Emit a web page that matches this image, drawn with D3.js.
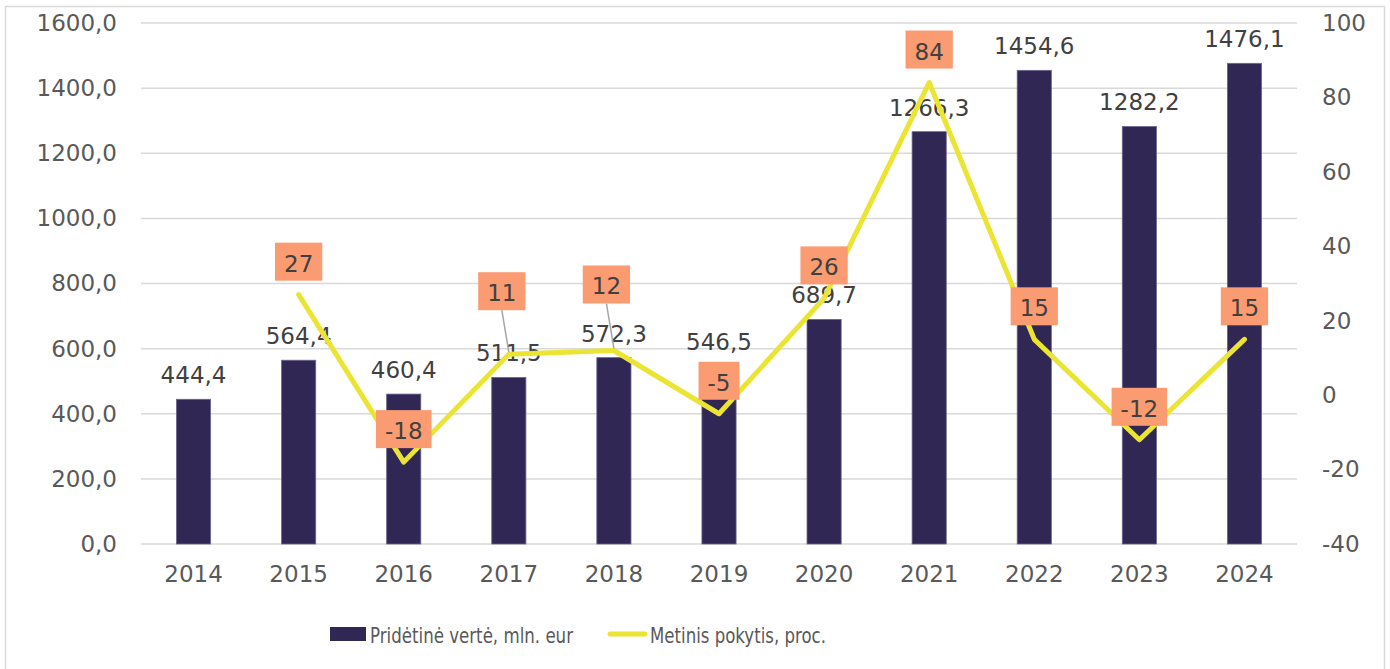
<!DOCTYPE html>
<html lang="lt">
<head>
  <meta charset="UTF-8">
  <title>Pridėtinė vertė</title>
  <script src="https://d3js.org/d3.v7.min.js"></script>
  <style>
    body { margin: 0; background: white; }
    svg { display: block; }
    svg text { font-family: "DejaVu Sans", Verdana, sans-serif; }
    .tick-label { font-size: 23px; fill: #595959; }
    .bar-label { font-size: 23px; fill: #404040; text-anchor: middle; }
    .pct-label { font-size: 23px; fill: #404040; text-anchor: middle; }
    .legend { font-size: 22px; fill: #595959; }
  </style>
</head>
<body>
  <svg id="chart" width="1390" height="669"></svg>
  <script>
    const years = ["2014", "2015", "2016", "2017", "2018", "2019", "2020", "2021", "2022", "2023", "2024"];
    const addedValue = [444.4, 564.4, 460.4, 511.5, 572.3, 546.5, 689.7, 1266.3, 1454.6, 1282.2, 1476.1];
    const yearlyChange = [null, 27, -18, 11, 12, -5, 26, 84, 15, -12, 15];
    const leftTicks = [0, 200, 400, 600, 800, 1000, 1200, 1400, 1600];
    const rightTicks = [-40, -20, 0, 20, 40, 60, 80, 100];

    // label boxes that were dragged away from their point (box centre offset)
    const boxNudge = { "2017": [-7, -63], "2018": [-7.5, -66] };

    const svg = d3.select("#chart");
    const plot = { left: 141, right: 1297, top: 23, bottom: 544 };

    const locale = d3.formatLocale({ decimal: ",", thousands: "", grouping: [3], currency: ["", "€"], minus: "-" });
    const fmt1 = locale.format(".1f");
    const fmt0 = locale.format("d");

    const x = d3.scaleBand()
      .domain(years)
      .range([plot.left, plot.right])
      .paddingInner(0.675)
      .paddingOuter(0.3375);
    const yL = d3.scaleLinear().domain([0, 1600]).range([plot.bottom, plot.top]);
    const yR = d3.scaleLinear().domain([-40, 100]).range([plot.bottom, plot.top]);
    const cx = d => x(d) + x.bandwidth() / 2;

    // outer frame
    svg.append("rect")
      .attr("x", 5.5).attr("y", 6.5)
      .attr("width", 1379).attr("height", 680)
      .attr("fill", "none").attr("stroke", "#d9d9d9").attr("stroke-width", 1.5);

    // gridlines
    svg.append("g").selectAll("line").data(leftTicks).join("line")
      .attr("x1", plot.left).attr("x2", plot.right)
      .attr("y1", d => yL(d)).attr("y2", d => yL(d))
      .attr("stroke", "#d9d9d9").attr("stroke-width", 1.5);

    function tidy(ax) {
      ax.attr("font-family", null).attr("font-size", null);
      ax.select(".domain").remove();
      ax.selectAll("text").attr("class", "tick-label").attr("fill", null);
    }

    // left axis
    svg.append("g")
      .attr("transform", `translate(${plot.left - 24},0)`)
      .call(d3.axisLeft(yL).tickValues(leftTicks).tickFormat(fmt1).tickSize(0).tickPadding(0))
      .call(tidy);

    // right axis
    svg.append("g")
      .attr("transform", `translate(${plot.right + 25},0)`)
      .call(d3.axisRight(yR).tickValues(rightTicks).tickFormat(fmt0).tickSize(0).tickPadding(0))
      .call(tidy);

    // bottom axis
    svg.append("g")
      .attr("transform", `translate(0,${plot.bottom})`)
      .call(d3.axisBottom(x).tickSize(0).tickPadding(22))
      .call(tidy);

    const rows = years.map((y, i) => ({ year: y, value: addedValue[i], pct: yearlyChange[i] }));

    // bars
    svg.append("g").selectAll("rect").data(rows).join("rect")
      .attr("x", d => x(d.year))
      .attr("y", d => yL(d.value))
      .attr("width", x.bandwidth())
      .attr("height", d => yL(0) - yL(d.value))
      .attr("fill", "#302754")
      .attr("stroke", "#6b6490").attr("stroke-width", 0.8);

    // bar value labels
    svg.append("g").selectAll("text").data(rows).join("text")
      .attr("class", "bar-label")
      .attr("x", d => cx(d.year))
      .attr("y", d => yL(d.value) - 16)
      .text(d => fmt1(d.value));

    // change line
    const pts = rows.filter(d => d.pct !== null);
    svg.append("path")
      .datum(pts)
      .attr("fill", "none")
      .attr("stroke", "#ebe433")
      .attr("stroke-width", 5)
      .attr("stroke-linecap", "round")
      .attr("stroke-linejoin", "round")
      .attr("d", d3.line().x(d => cx(d.year)).y(d => yR(d.pct)));

    // percentage label boxes
    const lbl = svg.append("g").selectAll("g").data(pts).join("g")
      .attr("transform", d => {
        const n = boxNudge[d.year] || [0, -33];
        return `translate(${cx(d.year) + n[0]},${yR(d.pct) + n[1]})`;
      });

    lbl.filter(d => boxNudge[d.year]).append("line")
      .attr("x1", 0).attr("y1", 19)
      .attr("x2", d => -boxNudge[d.year][0])
      .attr("y2", d => -boxNudge[d.year][1] - 2)
      .attr("stroke", "#a6a6a6").attr("stroke-width", 1.5);

    lbl.append("text")
      .attr("class", "pct-label")
      .attr("y", 10)
      .text(d => fmt0(d.pct));

    lbl.each(function () {
      const g = d3.select(this);
      const w = g.select("text").node().getComputedTextLength() + 18;
      g.insert("rect", "text")
        .attr("x", -w / 2).attr("y", -19)
        .attr("width", w).attr("height", 38)
        .attr("fill", "#fa9b72");
    });

    // legend
    const leg = svg.append("g");
    leg.append("rect").attr("x", 330).attr("y", 627).attr("width", 36).attr("height", 14).attr("fill", "#302754");
    leg.append("text").attr("class", "legend").attr("x", 370).attr("y", 643)
      .attr("textLength", 203).attr("lengthAdjust", "spacingAndGlyphs")
      .text("Pridėtinė vertė, mln. eur");
    leg.append("line").attr("x1", 610).attr("x2", 645).attr("y1", 634).attr("y2", 634)
      .attr("stroke", "#ebe433").attr("stroke-width", 5).attr("stroke-linecap", "round");
    leg.append("text").attr("class", "legend").attr("x", 650).attr("y", 643)
      .attr("textLength", 176).attr("lengthAdjust", "spacingAndGlyphs")
      .text("Metinis pokytis, proc.");
  </script>
</body>
</html>
